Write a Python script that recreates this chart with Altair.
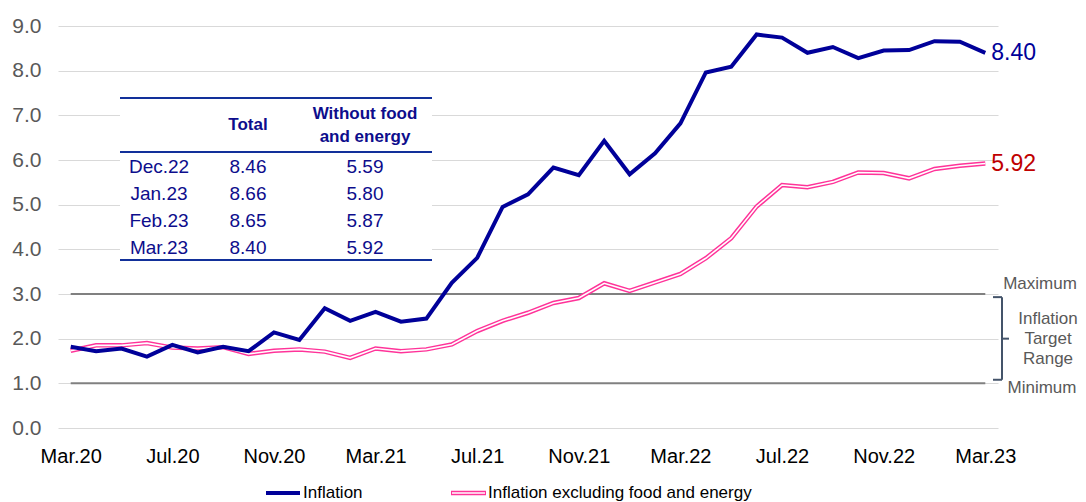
import altair as alt
import pandas as pd

# ---------------- data ----------------
MONTHS = ["Jan", "Feb", "Mar", "Apr", "May", "Jun", "Jul", "Aug", "Sep", "Oct", "Nov", "Dec"]
periods = [f"{MONTHS[(2 + i) % 12]}.{20 + (2 + i) // 12}" for i in range(37)]  # Mar.20 .. Mar.23

inflation = [1.82, 1.72, 1.78, 1.60, 1.86, 1.69, 1.82, 1.72, 2.14, 1.97,
             2.68, 2.40, 2.60, 2.38, 2.45, 3.25, 3.81, 4.95, 5.23, 5.83, 5.66, 6.43,
             5.68, 6.15, 6.82, 7.96, 8.09, 8.81, 8.74, 8.40, 8.53, 8.28, 8.45, 8.46,
             8.66, 8.65, 8.40]
core = [1.73, 1.85, 1.85, 1.90, 1.80, 1.78, 1.81, 1.66, 1.73, 1.76,
        1.71, 1.57, 1.78, 1.72, 1.76, 1.87, 2.17, 2.40, 2.58, 2.80, 2.91, 3.24,
        3.07, 3.26, 3.45, 3.80, 4.25, 4.96, 5.44, 5.39, 5.51, 5.72, 5.71, 5.59,
        5.80, 5.87, 5.92]

series_names = ["Inflation", "Inflation excluding food and energy"]
tick_idx = list(range(0, 37, 4))
tick_labels = [periods[i] for i in tick_idx]
y_ticks = [0, 1, 2, 3, 4, 5, 6, 7, 8, 9]
target_min, target_max = 1.0, 3.0
range_labels = ["Maximum", "Minimum"]
range_text = ["Inflation", "Target", "Range"]

table_header_total = "Total"
table_header_core = ["Without food", "and energy"]
table_periods = periods[-4:]
table_total = [f"{v:.2f}" for v in inflation[-4:]]
table_core = [f"{v:.2f}" for v in core[-4:]]

df = pd.DataFrame({"idx": list(range(len(periods))), "period": periods,
                   "inflation": inflation, "core": core})

# ---------------- styles ----------------
BLUE = "#000099"
PINK = "#ff3399"
RED = "#c00000"
GRAY_TXT = "#595959"
TBL_TXT = "#0d0d8c"
TBL_LINE = "#12309a"
BRACKET = "#44546a"
FONT = "Liberation Sans"

W, H = 940, 402

label_expr = "[" + ",".join(f"'{t}'" for t in tick_labels) + "][round(datum.value / 4)]"

x_scale = alt.Scale(domain=[-0.5, 36.5], nice=False, zero=False)
x_axis = alt.Axis(values=tick_idx, labelExpr=label_expr, grid=False, domain=False,
                  ticks=False, labelFontSize=20, labelColor="black", labelPadding=18,
                  title=None, labelFont=FONT)
y_scale = alt.Scale(domain=[0, 9], nice=False)
y_axis = alt.Axis(values=y_ticks, format=".1f", grid=True, gridColor="#d9d9d9",
                  gridWidth=1, domain=False, ticks=False, labelFontSize=21,
                  labelColor=GRAY_TXT, labelPadding=17, title=None, labelFont=FONT)


def X(f):
    return alt.X(f, scale=x_scale, axis=x_axis)


def Y(f):
    return alt.Y(f, scale=y_scale, axis=y_axis)


def XD(v):
    return alt.XDatum(v, scale=x_scale, axis=x_axis)


def YD(v):
    return alt.YDatum(v, scale=y_scale, axis=y_axis)


one = pd.DataFrame({"a": [0]})

# target range rules
range_rules = alt.Chart(one).mark_rule(color="#808080", strokeWidth=2).encode(
    x=XD(0), x2=alt.datum(36), y=YD(target_max)
) + alt.Chart(one).mark_rule(color="#808080", strokeWidth=2).encode(
    x=XD(0), x2=alt.datum(36), y=YD(target_min)
)

pink_outer = alt.Chart(df).mark_line(color=PINK, strokeWidth=4.5).encode(
    x=X("idx:Q"), y=Y("core:Q"))
pink_inner = alt.Chart(df).mark_line(color="white", strokeWidth=1.6).encode(
    x=X("idx:Q"), y=Y("core:Q"))
blue_line = alt.Chart(df).mark_line(color=BLUE, strokeWidth=4).encode(
    x=X("idx:Q"), y=Y("inflation:Q"))

end_labels = alt.Chart(one).mark_text(align="left", baseline="middle", dx=6, fontSize=23,
                                      color=BLUE, font=FONT).encode(
    x=XD(36), y=YD(inflation[-1]), text=alt.value(f"{inflation[-1]:.2f}")
) + alt.Chart(one).mark_text(align="left", baseline="middle", dx=6, fontSize=23,
                             color=RED, font=FONT).encode(
    x=XD(36), y=YD(core[-1]), text=alt.value(f"{core[-1]:.2f}")
)

# bracket for target range
bx = 944
bracket = (
    alt.Chart(one).mark_rule(color=BRACKET, strokeWidth=2).encode(
        x=alt.value(bx), y=YD(2.93), y2=alt.datum(1.08))
    + alt.Chart(one).mark_rule(color=BRACKET, strokeWidth=2).encode(
        x=alt.value(bx - 9), x2=alt.value(bx), y=YD(2.93))
    + alt.Chart(one).mark_rule(color=BRACKET, strokeWidth=2).encode(
        x=alt.value(bx - 9), x2=alt.value(bx), y=YD(1.08))
    + alt.Chart(one).mark_rule(color=BRACKET, strokeWidth=2).encode(
        x=alt.value(bx), x2=alt.value(bx + 7), y=YD(2.0))
)
range_txt = (
    alt.Chart(one).mark_text(align="center", baseline="middle", fontSize=17, color=GRAY_TXT,
                             font=FONT, dy=-10).encode(
        x=alt.value(982), y=YD(target_max), text=alt.value(range_labels[0]))
    + alt.Chart(one).mark_text(align="center", baseline="middle", fontSize=17, color=GRAY_TXT,
                               font=FONT, dy=5).encode(
        x=alt.value(984), y=YD(target_min), text=alt.value(range_labels[1]))
    + alt.Chart(one).mark_text(align="center", baseline="middle", fontSize=17, color=GRAY_TXT,
                               font=FONT, lineHeight=20, dy=-20).encode(
        x=alt.value(990), y=YD(2.0), text=alt.value(range_text))
)

# inset table
tx0, tx1 = 62, 374
table = (
    alt.Chart(one).mark_rect(color="white").encode(
        x=alt.value(tx0), x2=alt.value(tx1), y=alt.value(72), y2=alt.value(234))
    + alt.Chart(one).mark_rule(color=TBL_LINE, strokeWidth=2).encode(
        x=alt.value(tx0), x2=alt.value(tx1), y=alt.value(72))
    + alt.Chart(one).mark_rule(color=TBL_LINE, strokeWidth=2).encode(
        x=alt.value(tx0), x2=alt.value(tx1), y=alt.value(126))
    + alt.Chart(one).mark_rule(color=TBL_LINE, strokeWidth=2).encode(
        x=alt.value(tx0), x2=alt.value(tx1), y=alt.value(234))
    + alt.Chart(one).mark_text(align="center", baseline="middle", fontSize=17,
                               fontWeight="bold", color=TBL_TXT, font=FONT).encode(
        x=alt.value(190), y=alt.value(99), text=alt.value(table_header_total))
    + alt.Chart(one).mark_text(align="center", baseline="middle", fontSize=17,
                               fontWeight="bold", color=TBL_TXT, font=FONT,
                               lineHeight=23).encode(
        x=alt.value(307), y=alt.value(88), text=alt.value(table_header_core))
    + alt.Chart(one).mark_text(align="center", baseline="middle", fontSize=19,
                               color=TBL_TXT, font=FONT, lineHeight=27).encode(
        x=alt.value(101), y=alt.value(141), text=alt.value(table_periods))
    + alt.Chart(one).mark_text(align="center", baseline="middle", fontSize=19,
                               color=TBL_TXT, font=FONT, lineHeight=27).encode(
        x=alt.value(190), y=alt.value(141), text=alt.value(table_total))
    + alt.Chart(one).mark_text(align="center", baseline="middle", fontSize=19,
                               color=TBL_TXT, font=FONT, lineHeight=27).encode(
        x=alt.value(307), y=alt.value(141), text=alt.value(table_core))
)

# manual legend
ly = 467
legend = (
    alt.Chart(one).mark_rule(color=BLUE, strokeWidth=4).encode(
        x=alt.value(208), x2=alt.value(242), y=alt.value(ly))
    + alt.Chart(one).mark_text(align="left", baseline="middle", fontSize=17,
                               color="black", font=FONT).encode(
        x=alt.value(245), y=alt.value(ly), text=alt.value(series_names[0]))
    + alt.Chart(one).mark_rule(color=PINK, strokeWidth=4.5).encode(
        x=alt.value(393), x2=alt.value(428), y=alt.value(ly))
    + alt.Chart(one).mark_rule(color="white", strokeWidth=1.6).encode(
        x=alt.value(394), x2=alt.value(427), y=alt.value(ly))
    + alt.Chart(one).mark_text(align="left", baseline="middle", fontSize=17,
                               color="black", font=FONT).encode(
        x=alt.value(430), y=alt.value(ly), text=alt.value(series_names[1]))
)

chart = alt.layer(
    range_rules, pink_outer, pink_inner, blue_line, end_labels,
    bracket, range_txt, table, legend
).properties(
    width=W, height=H,
    padding={"left": 50, "top": 18, "right": 80, "bottom": 74},
    autosize=alt.AutoSizeParams(type="none"),
).configure(font=FONT).configure_view(stroke=None).configure_axis(
    domain=False, ticks=False
)

chart.save("out.html", embed_options={"renderer": "svg", "actions": False})
